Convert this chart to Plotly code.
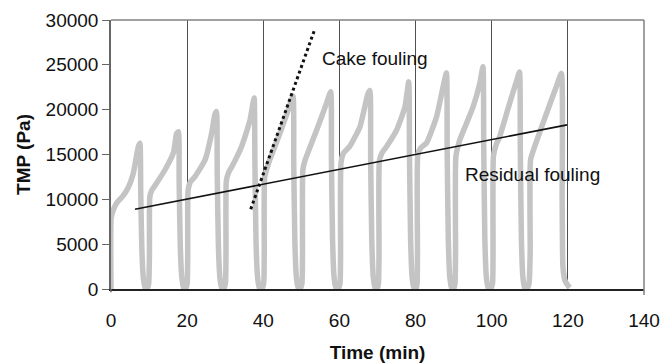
import plotly.graph_objects as go

# ---- data ----
time_min = [
    0.0, 0.05, 0.6, 1.5, 3.0, 4.5, 5.8, 6.6, 7.2, 7.6, 7.8, 8.1, 8.5, 9.0, 9.5, 9.9,
    10.1, 10.2, 10.7, 11.5, 14.2, 16.4, 17.2, 17.7, 17.9, 18.2, 18.6, 19.1, 19.6, 20.0,
    20.15, 20.25, 20.8, 22.0, 24.7, 26.4, 27.3, 27.7, 27.9, 28.2, 28.6, 29.1, 29.6, 30.05,
    30.2, 30.3, 30.9, 31.7, 34.3, 36.5, 37.2, 37.6, 37.8, 38.1, 38.5, 39.0, 39.6, 40.1,
    40.25, 40.35, 41.0, 41.7, 44.4, 46.5, 47.8, 48.0, 48.3, 48.7, 49.2, 49.7, 50.15,
    50.3, 50.4, 51.0, 51.8, 54.0, 56.6, 57.7, 57.9, 58.2, 58.6, 59.1, 59.7, 60.15,
    60.3, 60.4, 61.0, 62.7, 65.4, 67.5, 68.0, 68.2, 68.5, 68.9, 69.4, 69.9, 70.25,
    70.4, 70.5, 71.2, 72.4, 75.0, 77.2, 78.2, 78.4, 78.7, 79.1, 79.6, 80.1, 80.4,
    80.5, 80.6, 81.3, 82.9, 85.5, 87.2, 88.1, 88.3, 88.6, 89.0, 89.5, 90.0, 90.35,
    90.5, 90.6, 91.6, 93.3, 95.1, 96.9, 97.7, 97.9, 98.2, 98.6, 99.1, 99.7, 100.2,
    100.35, 100.45, 101.1, 102.1, 104.7, 106.6, 107.3, 107.5, 107.8, 108.2, 108.7, 109.3, 109.8,
    110.1, 110.2, 111.3, 114.4, 117.0, 118.3, 118.5, 118.7, 119.2, 120.0, 120.5,
]
tmp_pa = [
    0, 7900, 8800, 9600, 10300, 11300, 12800, 14600, 15900, 16250, 11000, 4500, 1200, 100, 50, 600,
    4000, 10300, 11000, 11500, 13300, 15200, 17300, 17550, 12000, 4800, 1300, 100, 50, 600,
    4000, 11000, 11900, 12500, 14400, 17300, 19500, 19800, 13000, 5000, 1300, 100, 50, 600,
    4000, 12100, 13000, 13600, 15900, 18800, 20500, 21300, 14000, 5200, 1300, 100, 50, 600,
    4000, 12400, 13500, 14400, 17400, 19900, 21500, 14000, 5200, 1300, 100, 50, 600,
    4000, 13300, 14400, 15300, 17700, 20700, 22000, 14500, 5400, 1300, 100, 50, 600,
    4000, 14000, 15100, 15900, 18100, 21800, 22150, 14500, 5400, 1300, 100, 50, 600,
    4000, 14300, 15200, 15900, 17700, 20300, 23100, 15000, 5500, 1300, 100, 50, 600,
    4000, 15000, 15700, 16300, 19200, 22500, 24100, 15500, 5500, 1300, 100, 50, 600,
    4000, 14800, 16600, 18400, 20300, 23000, 24800, 16000, 5500, 1300, 100, 50, 600,
    4000, 14800, 16000, 17000, 20700, 23300, 24200, 16000, 5500, 1300, 100, 50, 600,
    4000, 14400, 15900, 19600, 22600, 24050, 10000, 2500, 1000, 400, 150,
]

residual_x = [6.3, 119.8]
residual_y = [8900, 18300]
cake_x = [36.7, 53.5]
cake_y = [8900, 28950]

x_ticks = [0, 20, 40, 60, 80, 100, 120, 140]
y_ticks = [0, 5000, 10000, 15000, 20000, 25000, 30000]
y_tick_labels = ["0", "5000", "10000", "15000", "20000", "25000", "30000"]

FONT = "Liberation Sans, Arial, sans-serif"

fig = go.Figure()
fig.add_trace(go.Scatter(x=time_min, y=tmp_pa, mode="lines",
                         line=dict(color="#c4c4c4", width=5.5, shape="spline", smoothing=0.5),
                         showlegend=False))
fig.add_trace(go.Scatter(x=residual_x, y=residual_y, mode="lines",
                         line=dict(color="#111111", width=1.6), showlegend=False))
fig.add_trace(go.Scatter(x=cake_x, y=cake_y, mode="lines",
                         line=dict(color="#111111", width=3, dash="dot"), showlegend=False))

fig.add_annotation(x=69.3, y=25700, text="Cake fouling", showarrow=False,
                   font=dict(family=FONT, size=19, color="#111"))
fig.add_annotation(x=110.7, y=12820, text="Residual fouling", showarrow=False,
                   font=dict(family=FONT, size=19, color="#111"))

# top and right borders (right border extends slightly below the axis, as in the original)
fig.add_shape(type="line", xref="paper", yref="paper", x0=0, x1=1, y0=1, y1=1,
              line=dict(color="#808080", width=1.5))
fig.add_shape(type="line", xref="paper", yref="paper", x0=1, x1=1, y0=-0.022, y1=1,
              line=dict(color="#808080", width=1.5))
fig.add_shape(type="line", xref="paper", yref="paper", x0=0, x1=0, y0=-0.012, y1=0,
              line=dict(color="#666", width=1.5))

fig.update_layout(
    width=667, height=363,
    margin=dict(l=111, r=23, t=20, b=74),
    paper_bgcolor="white", plot_bgcolor="white",
    font=dict(family=FONT, size=19, color="#111"),
    xaxis=dict(range=[0, 140], tickvals=x_ticks, showgrid=True, gridcolor="#505050",
               gridwidth=1, zeroline=False, showline=True, linecolor="#222", linewidth=1.5,
               ticks="", tickfont=dict(size=19), ticklabelstandoff=13, automargin=False,
               title=dict(text="<b>Time (min)</b>", font=dict(size=19), standoff=17)),
    yaxis=dict(range=[0, 30000], tickvals=y_ticks, ticktext=y_tick_labels,
               showgrid=False, zeroline=False, automargin=False,
               showline=True, linecolor="#666", linewidth=1.5, ticks="outside",
               ticklen=7, tickcolor="#666", tickfont=dict(size=19),
               title=dict(text="<b>TMP (Pa)</b>", font=dict(size=19), standoff=10)),
)

fig.write_html("out.html")
